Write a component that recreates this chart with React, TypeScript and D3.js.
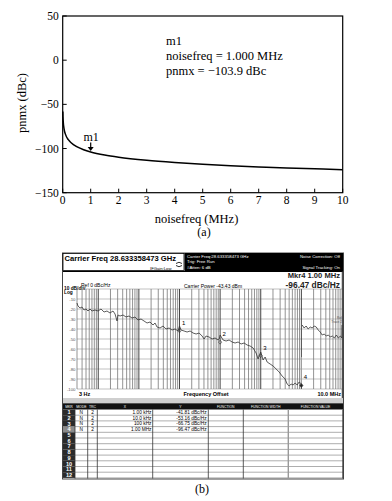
import React from "react";
import * as d3 from "d3";

// ---------- (a) top chart data ----------
const topFreqMHz = [0.005, 0.01, 0.02, 0.05, 0.1, 0.2, 0.3, 0.5, 0.75, 1, 1.5, 2, 3, 4, 5, 6, 7, 8, 9, 10];
const topPnmx = [-58, -64, -70, -78, -84, -90, -93.4, -97.9, -101.4, -103.9, -107.4, -109.9, -113.4, -115.9, -117.9, -119.5, -120.8, -122, -123, -123.9];
const topXTicks = [0, 1, 2, 3, 4, 5, 6, 7, 8, 9, 10];
const topYTicks = [-150, -100, -50, 0, 50];
const markerFreqMHz = 1.0;
const markerPnmx = -103.9;

// ---------- (b) analyzer screenshot data ----------
const traceFreqHz = [
  3, 3.17, 3.56, 3.98, 4.46, 5.0, 5.6, 6.27, 7.03, 8.32, 9.9, 11.7, 13.9, 16.4, 19.5, 23.1, 25.9, 29, 30.7, 34.4,
  40.8, 48.3, 57.3, 67.9, 80.4, 95.3, 113, 134, 159, 188, 223, 250, 280, 332, 394, 467, 553, 656, 778, 922,
  1000, 1095, 1297, 1537, 1822, 2160, 2560, 3035, 3598, 4030, 4513, 5349, 6341, 7517, 8910, 9500, 10000, 11832, 14025, 16625,
  19709, 23364, 27696, 32832, 38918, 46140, 54690, 64830, 76850, 86100, 93000, 100000, 114300, 128200, 143600, 170200, 201800, 239200, 283500, 336000,
  398400, 446000, 500000, 560000, 626700, 701800, 787000, 881000, 1000000,
];
const traceDbc = [
  -14, -17, -19, -18, -21, -20, -22, -20, -22, -21, -22, -20, -23, -22, -24, -22, -25, -32, -26, -27,
  -26, -28, -27, -29, -28, -31, -30, -32, -34, -33, -36, -34, -38, -39, -37, -40, -39, -41, -40, -42,
  -37, -41, -42, -43, -42, -44, -45, -44, -47, -50, -47, -48, -50, -49, -51, -50, -46, -51, -52, -51,
  -53, -54, -53, -55, -54, -56, -57, -59, -64, -70, -66, -63, -71, -68, -73, -75, -77, -80, -83, -87,
  -90, -95, -97, -95, -96, -94, -96, -93, -95,
];
const trace2FreqHz = [1.045e6, 1.17e6, 1.31e6, 1.47e6, 1.65e6, 1.85e6, 2.07e6, 2.32e6, 2.6e6, 2.91e6, 3.26e6, 3.66e6, 4.1e6, 4.6e6, 5.15e6, 5.78e6, 6.48e6, 7.26e6, 8.14e6, 9.12e6, 9.9e6, 1e7];
const trace2Dbc = [-36, -39, -37, -40, -38, -39, -37, -38, -41, -43, -46, -45, -47, -46, -48, -47, -49, -46, -49, -47, -49, -36];

const mkrIds = ["1", "2", "3", "4"];
const mkrFreqHz = [1e3, 1e4, 1e5, 1e6];
const mkrDbc = [-41.81, -53.16, -66.75, -96.47];
const mkrXText = ["1.00 kHz", "10.0 kHz", "100 kHz", "1.00 MHz"];
const mkrYText = ["-41.81 dBc/Hz", "-53.16 dBc/Hz", "-66.75 dBc/Hz", "-96.47 dBc/Hz"];
const bYTicks = [-10, -20, -30, -40, -50, -60, -70, -80, -90, -100];
const tableCols = ["MKR", "MODE", "TRC", "X", "Y", "FUNCTION", "FUNCTION WIDTH", "FUNCTION VALUE"];
const tableRowIds = ["1", "2", "3", "4", "5", "6", "7", "8", "9", "10", "11", "12"];

const SERIF = "'Liberation Serif', 'Times New Roman', serif";
const SANS = "'Liberation Sans', Arial, sans-serif";

function TopChart() {
  const x = d3.scaleLinear().domain([0, 10]).range([62.7, 342.7]);
  const y = d3.scaleLinear().domain([-150, 50]).range([192.7, 16]);
  const line = d3
    .line<number>()
    .x((_, i) => x(topFreqMHz[i]))
    .y((d) => y(d))
    .curve(d3.curveMonotoneX);
  const mx = x(markerFreqMHz);
  const my = y(markerPnmx);
  return (
    <g>
      <rect x={x(0)} y={y(50)} width={x(10) - x(0)} height={y(-150) - y(50)} fill="none" stroke="#000" strokeWidth={1.2} />
      {topXTicks.map((t) => (
        <g key={"xt" + t}>
          <line x1={x(t)} x2={x(t)} y1={y(-150)} y2={y(-150) - 4} stroke="#000" strokeWidth={1} />
          <text x={x(t)} y={y(-150) + 11.5} fontSize={11.5} textAnchor="middle" fontFamily={SERIF}>
            {t}
          </text>
        </g>
      ))}
      {topYTicks.map((t) => (
        <g key={"yt" + t}>
          <line x1={x(0)} x2={x(0) + 4} y1={y(t)} y2={y(t)} stroke="#000" strokeWidth={1} />
          <text x={x(0) - 4} y={y(t) + 4} fontSize={11.5} textAnchor="end" fontFamily={SERIF}>
            {t < 0 ? "\u2212" + Math.abs(t) : t}
          </text>
        </g>
      ))}
      <path d={line(topPnmx) || ""} fill="none" stroke="#000" strokeWidth={1.5} />
      <text x={mx + 0.5} y={my - 11} fontSize={12} textAnchor="middle" fontFamily={SERIF}>
        m1
      </text>
      <line x1={mx} x2={mx} y1={my - 9.5} y2={my - 4} stroke="#000" strokeWidth={1.2} />
      <path d={`M${mx - 3},${my - 5} L${mx + 3},${my - 5} L${mx},${my - 1} Z`} fill="#000" />
      <text x={166} y={44.5} fontSize={12.5} fontFamily={SERIF}>m1</text>
      <text x={166} y={59.5} fontSize={12.5} fontFamily={SERIF}>noisefreq = 1.000 MHz</text>
      <text x={166} y={74.5} fontSize={12.5} fontFamily={SERIF}>pnmx = {"\u2212"}103.9 dBc</text>
      <text x={196.5} y={222.5} fontSize={12.5} textAnchor="middle" fontFamily={SERIF}>
        noisefreq (MHz)
      </text>
      <text x={204} y={236} fontSize={12} textAnchor="middle" fontFamily={SERIF}>(a)</text>
      <text transform="translate(26,103) rotate(-90)" fontSize={12.5} textAnchor="middle" fontFamily={SERIF}>
        pnmx (dBc)
      </text>
    </g>
  );
}

function Screenshot() {
  const bx = d3.scaleLog().domain([3, 1e7]).range([77, 342]);
  const by = d3.scaleLinear().domain([-100, 0]).range([389, 289]);
  const gridFreqs: { f: number; major: boolean }[] = [];
  for (let dec = 0; dec <= 7; dec++) {
    for (let m = 1; m <= 9; m++) {
      const f = m * Math.pow(10, dec);
      if (f > 3 && f < 1e7) gridFreqs.push({ f, major: m === 1 });
    }
  }
  const tr = d3
    .line<number>()
    .x((_, i) => bx(traceFreqHz[i]))
    .y((d) => by(d));
  const tr2 = d3
    .line<number>()
    .x((_, i) => bx(trace2FreqHz[i]))
    .y((d) => by(d));
  const colX = [63, 75, 87.7, 97.3, 152.7, 208.3, 243.3, 288.3, 342.7];
  const rowTop = 409.5;
  const rowH = 5.7;
  return (
    <g fontFamily={SANS}>
      <rect x={62.5} y={253} width={281} height={226} fill="#fff" stroke="#444" strokeWidth={1} />
      {/* header */}
      <rect x={63} y={253.5} width={121} height={17} fill="#fff" stroke="#000" strokeWidth={0.8} />
      <text x={64.5} y={260.5} fontSize={7.6} fontWeight="bold">Carrier Freq  28.633358473 GHz</text>
      <text x={150} y={269.5} fontSize={4.2}>IFGain:Low</text>
      <path d="M176,263.5 q3,-2.5 6,0 M176,265.5 q3,2.5 6,0" fill="none" stroke="#000" strokeWidth={0.8} />
      <rect x={184.5} y={253} width={158.5} height={18} fill="#000" />
      <g fill="#fff" fontSize={4.3}>
        <text x={187} y={257.5}>Carrier Freq:28.633358473 GHz</text>
        <text x={187} y={263}>Trig: Free Run</text>
        <text x={187} y={268.5}>#Atten: 6 dB</text>
        <text x={340} y={257.5} textAnchor="end">Noise Correction: Off</text>
        <text x={340} y={269} textAnchor="end">Signal Tracking: On</text>
      </g>
      <line x1={63} x2={343} y1={271.5} y2={271.5} stroke="#000" strokeWidth={1.2} />
      {/* chart labels */}
      <text x={340} y={278.3} fontSize={7.6} fontWeight="bold" fill="#222" textAnchor="end">Mkr4 1.00 MHz</text>
      <text x={340} y={288} fontSize={8.4} fontWeight="bold" fill="#222" textAnchor="end">-96.47  dBc/Hz</text>
      <text x={64} y={289.5} fontSize={4.8} fontWeight="bold">10 dB/div</text>
      <text x={64} y={294} fontSize={4.8} fontWeight="bold">Log</text>
      <text x={81} y={286.5} fontSize={5}>Ref  0 dBc/Hz</text>
      <text x={184} y={288} fontSize={5}>Carrier Power -43.43 dBm</text>
      {/* grid */}
      {bYTicks.concat([0]).map((t) => (
        <line key={"h" + t} x1={77} x2={342} y1={by(t)} y2={by(t)} stroke="#999" strokeWidth={0.6} />
      ))}
      {gridFreqs.map((g) => (
        <line
          key={"v" + g.f}
          x1={bx(g.f)}
          x2={bx(g.f)}
          y1={289}
          y2={389}
          stroke={g.major ? "#444" : "#777"}
          strokeWidth={g.major ? 1 : 0.8}
        />
      ))}
      <line x1={77} x2={77} y1={289} y2={389} stroke="#666" strokeWidth={0.7} />
      <line x1={342.3} x2={342.3} y1={271} y2={398} stroke="#222" strokeWidth={1} />
      {bYTicks.map((t) => (
        <text key={"yl" + t} x={75.5} y={by(t) + 1.6} fontSize={4.3} textAnchor="end" fill="#555">
          {t}
        </text>
      ))}
      {/* traces */}
      <path d={tr(traceDbc) || ""} fill="none" stroke="#333" strokeWidth={0.8} />
      <path d={tr2(trace2Dbc) || ""} fill="none" stroke="#333" strokeWidth={0.8} />
      <line x1={bx(1e6)} x2={bx(1e6)} y1={357} y2={387} stroke="#aaa" strokeWidth={1} />
      {mkrIds.map((id, i) => {
        const px = bx(mkrFreqHz[i]);
        const py = by(mkrDbc[i]);
        return (
          <g key={"mk" + id}>
            <path
              d={`M${px},${py - 2} L${px + 1.6},${py} L${px},${py + 2} L${px - 1.6},${py} Z`}
              fill={i === 3 ? "#222" : "none"}
              stroke="#333"
              strokeWidth={0.6}
            />
            <text x={px + 2.5} y={py - 6} fontSize={6}>{id}</text>
          </g>
        );
      })}
      <text x={342} y={319} fontSize={3.2} textAnchor="end" fill="#555">Ref</text>
      <text x={342} y={322.5} fontSize={3.2} textAnchor="end" fill="#555">Trace 2</text>
      <text x={79} y={396} fontSize={5.5} fontWeight="bold">3 Hz</text>
      <text x={206} y={396} fontSize={5.5} fontWeight="bold" textAnchor="middle">Frequency Offset</text>
      <text x={341} y={396} fontSize={5.5} fontWeight="bold" textAnchor="end">10.0 MHz</text>
      {/* marker table */}
      <rect x={63} y={398} width={280} height={6} fill="#cfcfcf" />
      <line x1={63} x2={343} y1={403.5} y2={403.5} stroke="#333" strokeWidth={0.8} />
      <rect x={63} y={404} width={280} height={5.5} fill="#111" />
      {tableCols.map((c, i) => (
        <text key={"tc" + c} x={(colX[i] + colX[i + 1]) / 2} y={408.3} fontSize={3.4} fill="#fff" textAnchor="middle">
          {c}
        </text>
      ))}
      {tableRowIds.map((r, i) => (
        <g key={"row" + r}>
          <rect x={63} y={rowTop + i * rowH} width={12} height={rowH} fill={i === 3 ? "#8a8a8a" : "#2a2a2a"} />
          <text x={69} y={rowTop + i * rowH + 4.7} fontSize={5.6} fontWeight="bold" fill="#fff" textAnchor="middle">
            {r}
          </text>
          <line x1={75} x2={343} y1={rowTop + (i + 1) * rowH} y2={rowTop + (i + 1) * rowH} stroke="#777" strokeWidth={0.6} />
        </g>
      ))}
      {mkrIds.map((id, i) => (
        <g key={"tr" + id} fontSize={4.8}>
          <text x={81.3} y={rowTop + i * rowH + 4.5} textAnchor="middle">N</text>
          <text x={92.5} y={rowTop + i * rowH + 4.5} textAnchor="middle">2</text>
          <text x={151.5} y={rowTop + i * rowH + 4.5} textAnchor="end">{mkrXText[i]}</text>
          <text x={206.7} y={rowTop + i * rowH + 4.5} textAnchor="end">{mkrYText[i]}</text>
        </g>
      ))}
      {colX.slice(1).map((cx, i) => (
        <line
          key={"cl" + i}
          x1={cx}
          x2={cx}
          y1={409.5}
          y2={478.5}
          stroke={i === 6 ? "#999" : "#333"}
          strokeWidth={i === 6 ? 1.4 : 0.8}
        />
      ))}
      <text x={202} y={492.5} fontSize={12} textAnchor="middle" fontFamily={SERIF}>(b)</text>
    </g>
  );
}

export default function App() {
  return (
    <svg
      width={392}
      height={501}
      viewBox="0 0 392 501"
      style={{ position: "absolute", left: 0, top: 0, background: "#fff" }}
    >
      <rect width={392} height={501} fill="#fff" />
      <TopChart />
      <Screenshot />
    </svg>
  );
}
